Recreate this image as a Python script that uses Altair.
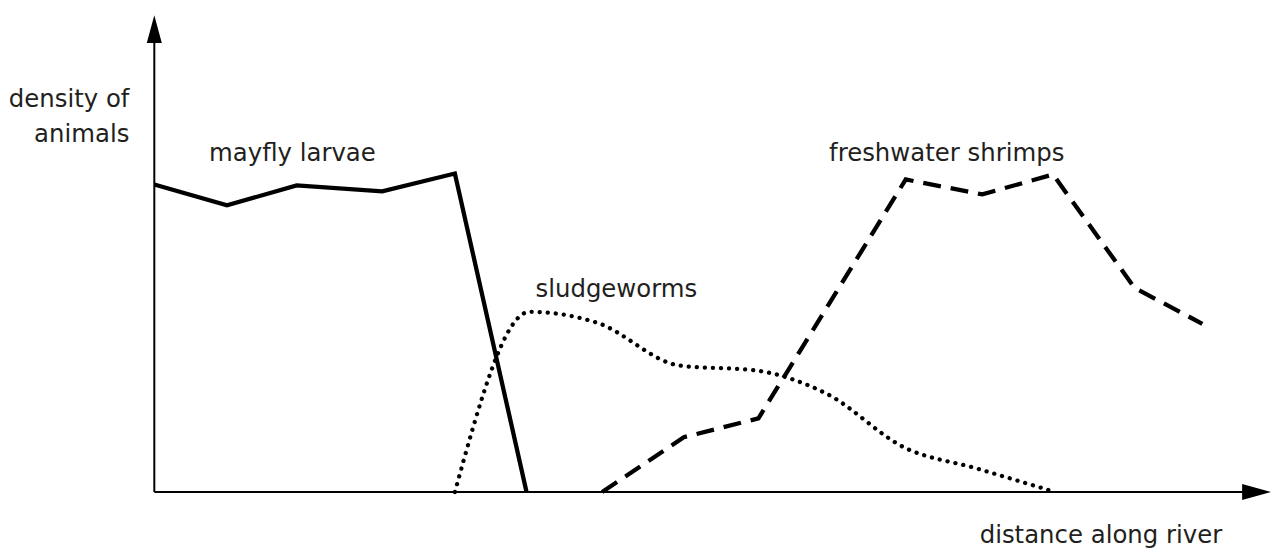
import altair as alt
import pandas as pd

# Data (x = distance along river, y = density; arbitrary units)
mayfly_x = [0, 73, 143, 229, 302, 374]
mayfly_y = [309, 288, 308, 302, 320, 0]

sludge_x = [302, 377, 445, 528, 605, 675, 755, 825, 905]
sludge_y = [0, 181, 170, 127, 122, 99, 44, 24, 0]

shrimp_x = [450, 532, 607, 755, 832, 903, 985, 1053]
shrimp_y = [0, 55, 74, 314, 299, 319, 205, 169]

label_text = ["mayfly larvae", "sludgeworms", "freshwater shrimps"]
label_x = [55, 383, 678]
label_y = [333, 196, 333]

ytitle_text = ["density of", "animals"]
ytitle_x = [-25, -25]
ytitle_y = [387, 352]

xtitle_text = ["distance along river"]
xtitle_x = [1073]
xtitle_y = [-51]

W, H = 1270, 541
xs = alt.Scale(domain=[-147, 1123], nice=False, zero=False)
ys = alt.Scale(domain=[-56, 485], nice=False, zero=False)

def X(f="x"):
    return alt.X(f"{f}:Q", scale=xs, axis=None)

def Y(f="y"):
    return alt.Y(f"{f}:Q", scale=ys, axis=None)

mayfly = pd.DataFrame({"x": mayfly_x, "y": mayfly_y})
sludge = pd.DataFrame({"x": sludge_x, "y": sludge_y})
shrimp = pd.DataFrame({"x": shrimp_x, "y": shrimp_y})

axes_df = pd.DataFrame({"x": [0, 0], "y": [0, 0], "x2": [0, 1097], "y2": [455, 0]})
axis_lines = alt.Chart(axes_df).mark_rule(color="black", strokeWidth=2).encode(
    x=X(), y=Y(), x2="x2:Q", y2="y2:Q"
)

yhead = alt.Chart(pd.DataFrame({"x": [0], "y": [465]})).mark_point(
    shape="M0,-1L0.54,1L-0.54,1Z", size=784, filled=True, color="black", opacity=1, strokeWidth=0
).encode(x=X(), y=Y())

xhead = alt.Chart(pd.DataFrame({"x": [1107.5], "y": [0]})).mark_point(
    shape="M1,0L-1,0.56L-1,-0.56Z", size=841, filled=True, color="black", opacity=1, strokeWidth=0
).encode(x=X(), y=Y())

l_mayfly = alt.Chart(mayfly).mark_line(color="black", strokeWidth=4.3, strokeJoin="miter").encode(
    x=X(), y=Y(), order="x:Q"
)
l_sludge = alt.Chart(sludge).mark_line(
    color="black", strokeWidth=4.3, strokeDash=[0.1, 8], strokeCap="round", interpolate="monotone"
).encode(x=X(), y=Y(), order="x:Q")
l_shrimp = alt.Chart(shrimp).mark_line(
    color="black", strokeWidth=4.3, strokeDash=[18, 10], strokeJoin="miter"
).encode(x=X(), y=Y(), order="x:Q")

txt = dict(font="DejaVu Sans", fontSize=24.5, color="#231f20", baseline="alphabetic")

labels = alt.Chart(pd.DataFrame({"x": label_x, "y": label_y, "t": label_text})).mark_text(
    align="left", **txt
).encode(x=X(), y=Y(), text="t:N")

ytitle = alt.Chart(pd.DataFrame({"x": ytitle_x, "y": ytitle_y, "t": ytitle_text})).mark_text(
    align="right", **txt
).encode(x=X(), y=Y(), text="t:N")

xtitle = alt.Chart(pd.DataFrame({"x": xtitle_x, "y": xtitle_y, "t": xtitle_text})).mark_text(
    align="right", **txt
).encode(x=X(), y=Y(), text="t:N")

chart = alt.layer(
    axis_lines, yhead, xhead, l_mayfly, l_sludge, l_shrimp, labels, ytitle, xtitle
).properties(
    width=W, height=H, padding=0, autosize=alt.AutoSizeParams(type="none"),
    background="white"
).configure_view(stroke=None)

chart.save("out.html", embed_options={"renderer": "svg", "actions": False})
